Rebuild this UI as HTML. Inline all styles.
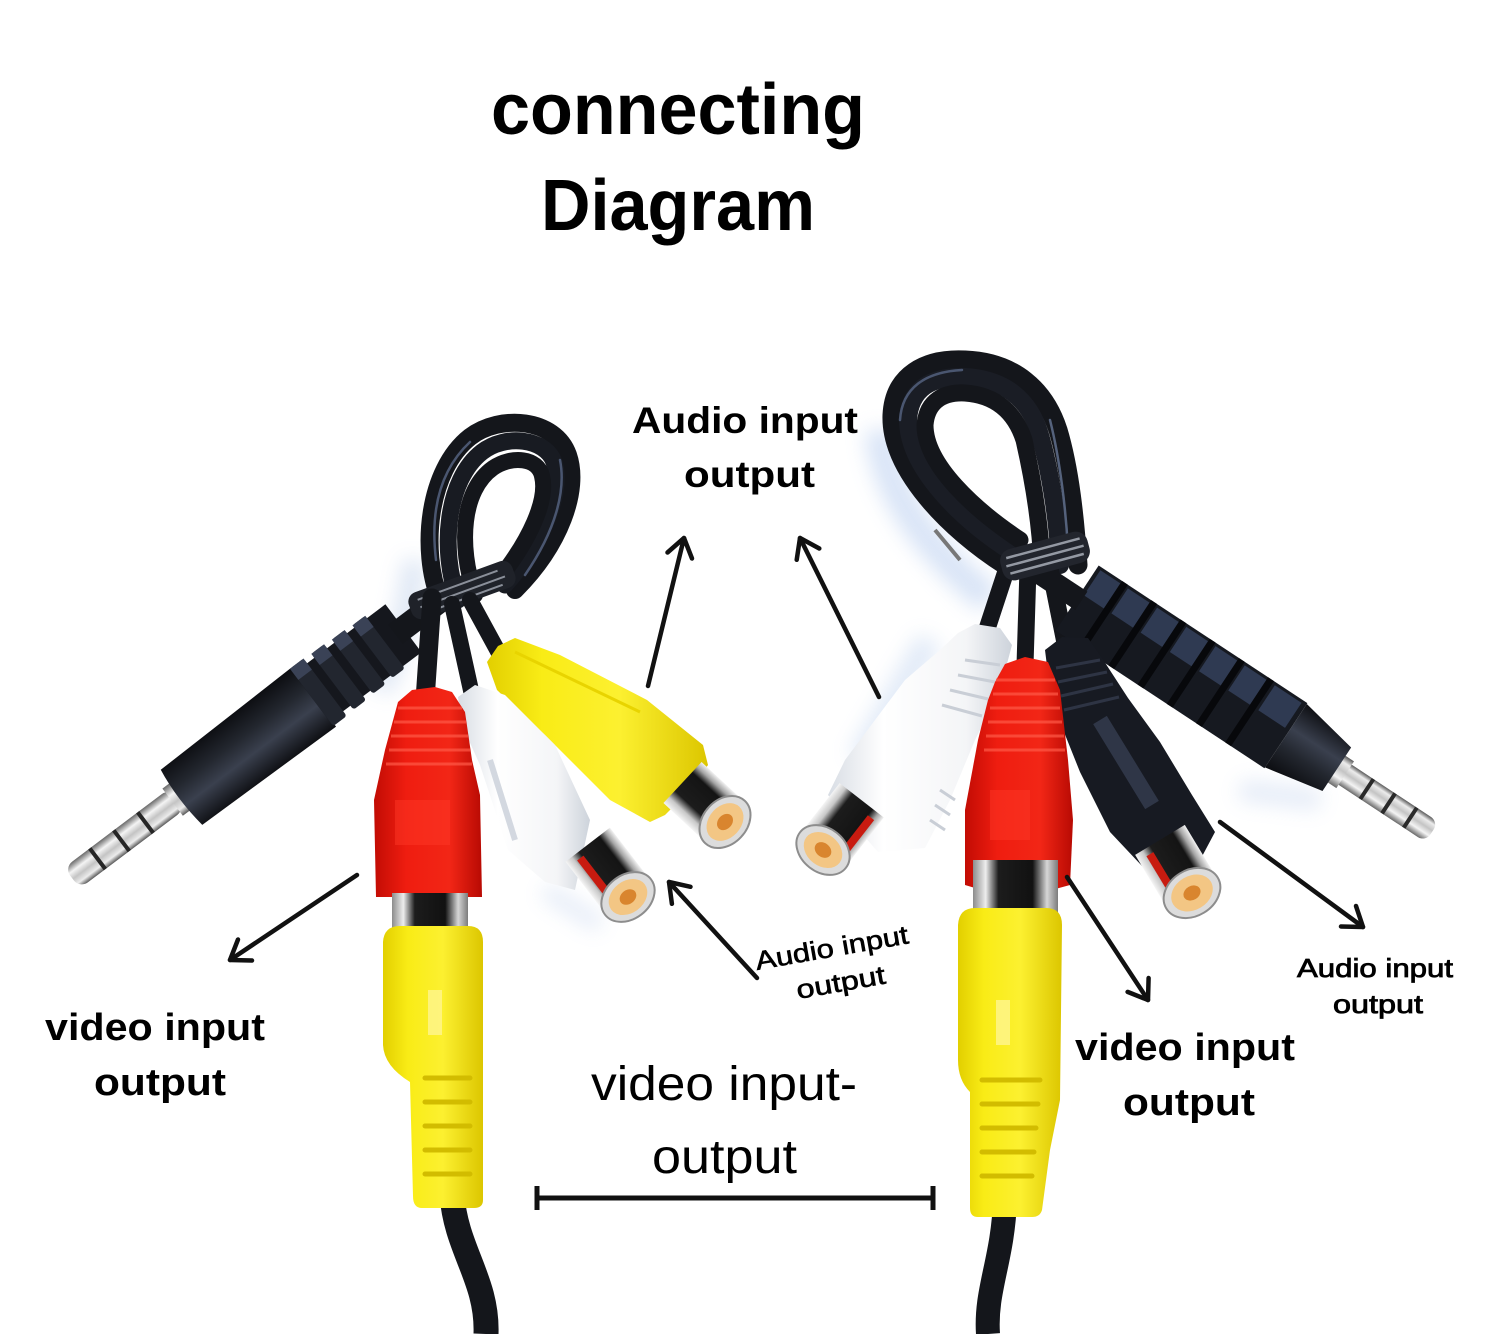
<!DOCTYPE html>
<html><head><meta charset="utf-8">
<style>html,body{margin:0;padding:0;background:#fff;}svg{display:block}</style>
</head><body>
<svg xmlns="http://www.w3.org/2000/svg" width="1500" height="1334" viewBox="0 0 1500 1334">
<defs>
<linearGradient id="metal" x1="0" y1="0" x2="0" y2="1">
 <stop offset="0" stop-color="#6a6a6a"/><stop offset="0.3" stop-color="#f4f4f4"/><stop offset="0.55" stop-color="#c4c4c4"/><stop offset="0.8" stop-color="#ececec"/><stop offset="1" stop-color="#5a5a5a"/>
</linearGradient>
<linearGradient id="blk" x1="0" y1="0" x2="0" y2="1">
 <stop offset="0" stop-color="#0c0d11"/><stop offset="0.35" stop-color="#23272f"/><stop offset="0.62" stop-color="#3a404e"/><stop offset="1" stop-color="#0e0f13"/>
</linearGradient>
<linearGradient id="chrome" x1="0" y1="0" x2="0" y2="1">
 <stop offset="0" stop-color="#f2f2f2"/><stop offset="0.12" stop-color="#a5a5a5"/><stop offset="0.25" stop-color="#141414"/><stop offset="0.7" stop-color="#1c1c1c"/><stop offset="0.86" stop-color="#c8c8c8"/><stop offset="1" stop-color="#f5f5f5"/>
</linearGradient>
<linearGradient id="collar" x1="0" y1="0" x2="1" y2="0">
 <stop offset="0" stop-color="#8c8c8c"/><stop offset="0.15" stop-color="#ededed"/><stop offset="0.3" stop-color="#1c1c1c"/><stop offset="0.7" stop-color="#111"/><stop offset="0.87" stop-color="#d6d6d6"/><stop offset="1" stop-color="#7c7c7c"/>
</linearGradient>
<linearGradient id="yel" x1="0" y1="0" x2="1" y2="0">
 <stop offset="0" stop-color="#e2cf00"/><stop offset="0.25" stop-color="#f9ec16"/><stop offset="0.6" stop-color="#fcf030"/><stop offset="1" stop-color="#dcc600"/>
</linearGradient>
<linearGradient id="red" x1="0" y1="0" x2="1" y2="0">
 <stop offset="0" stop-color="#c20c04"/><stop offset="0.3" stop-color="#ef1d10"/><stop offset="0.7" stop-color="#f22616"/><stop offset="1" stop-color="#b80a03"/>
</linearGradient>
<linearGradient id="wht" x1="0" y1="0" x2="1" y2="0">
 <stop offset="0" stop-color="#d8dde4"/><stop offset="0.3" stop-color="#ffffff"/><stop offset="0.75" stop-color="#f4f5f7"/><stop offset="1" stop-color="#cdd3db"/>
</linearGradient>
<filter id="sh" x="-50%" y="-50%" width="200%" height="200%"><feGaussianBlur stdDeviation="10"/></filter>
</defs>

<rect width="1500" height="1334" fill="#ffffff"/>

<!-- soft blue shadows -->
<g filter="url(#sh)" opacity="0.45">
 <path d="M880,430 C885,500 940,560 990,600" stroke="#a9c3ec" stroke-width="30" fill="none"/>
 <path d="M415,560 C410,600 400,650 380,690" stroke="#b8cbe8" stroke-width="24" fill="none"/>
 <path d="M930,640 L860,760" stroke="#bcd0ee" stroke-width="26" fill="none"/>
 <path d="M1240,790 L1320,800" stroke="#c3d3ee" stroke-width="20" fill="none"/>
 <path d="M545,890 L600,925" stroke="#c3d3ee" stroke-width="16" fill="none"/>
</g>

<!-- ================= LEFT ASSEMBLY ================= -->
<g fill="none" stroke-linecap="round">
 <path d="M440,600 C420,550 428,470 470,437 C500,414 555,418 568,455 C580,490 560,545 515,590" stroke="#14161b" stroke-width="18"/>
 <path d="M458,600 C440,550 446,480 482,452 C505,434 545,438 554,462 C563,490 545,540 505,585" stroke="#181b22" stroke-width="17"/>
 <path d="M475,595 C458,545 462,490 493,468 C512,455 538,458 542,476 C548,500 530,540 498,580" stroke="#14161b" stroke-width="16"/>
 <path d="M436,560 C430,510 440,470 470,442" stroke="#4a5670" stroke-width="2.5"/>
 <path d="M560,460 C566,490 556,530 525,575" stroke="#4a5670" stroke-width="2.5"/>
</g>

<!-- left jack -->
<g transform="translate(72,878) rotate(-37)">
 <rect x="0" y="-13" width="132" height="26" rx="10" fill="url(#metal)"/>
 <rect x="30" y="-13" width="4" height="26" fill="#262626"/>
 <rect x="60" y="-13" width="4" height="26" fill="#262626"/>
 <rect x="90" y="-13" width="4" height="26" fill="#262626"/>
 <rect x="126" y="-17" width="14" height="34" fill="url(#metal)"/>
 <path d="M136,-33 Q131,0 136,36 L302,38 L302,-36 Z" fill="url(#blk)"/>
 <rect x="300" y="-30" width="115" height="60" fill="#15171d"/>
 <rect x="300" y="-36" width="17" height="72" rx="3" fill="#22262f"/>
 <rect x="326" y="-35" width="16" height="70" rx="3" fill="#22262f"/>
 <rect x="351" y="-34" width="16" height="68" rx="3" fill="#22262f"/>
 <rect x="376" y="-33" width="16" height="66" rx="3" fill="#22262f"/>
 <rect x="300" y="-36" width="17" height="14" fill="#3a4256"/>
 <rect x="326" y="-35" width="16" height="14" fill="#3a4256"/>
 <rect x="351" y="-34" width="16" height="14" fill="#3a4256"/>
 <rect x="376" y="-33" width="16" height="14" fill="#3a4256"/>
 <rect x="405" y="-12" width="72" height="24" fill="#14161b"/>
</g>

<!-- left tie -->
<g transform="translate(462,590) rotate(-20)">
 <rect x="-55" y="-14" width="110" height="28" rx="10" fill="#1f2229"/>
 <path d="M-45,-6 H40 M-45,2 H45 M-40,9 H40" stroke="#8a8f99" stroke-width="2"/>
</g>

<!-- left cables to rca -->
<g fill="none" stroke="#14161b" stroke-linecap="round">
 <path d="M432,598 L425,700" stroke-width="19"/>
 <path d="M452,604 L472,695" stroke-width="16"/>
 <path d="M470,600 L500,655" stroke-width="16"/>
</g>

<!-- left yellow female -->
<path d="M487,662 L498,646 L515,638 L560,655 L647,700 L703,745 L708,765 L690,790 L665,815 L650,822 L610,800 L583,773 L545,735 L520,712 L497,690 Z" fill="url(#yel)"/>
<path d="M515,652 L640,712" stroke="#e8d400" stroke-width="3" fill="none"/>
<g transform="translate(725,822) rotate(42.9)">
 <rect x="-58" y="-28" width="58" height="56" fill="url(#chrome)"/>
 <ellipse rx="22" ry="29" fill="#dcdcdc" stroke="#8d8d8d" stroke-width="2"/>
 <ellipse rx="16" ry="21" fill="#f3c684"/>
 <ellipse rx="7" ry="9" fill="#d9852e"/>
</g>

<!-- left white female -->
<path d="M458,697 L475,685 L505,695 L555,745 L590,820 L575,890 L545,882 L508,850 L480,765 L462,725 Z" fill="url(#wht)"/>
<path d="M490,760 L515,840" stroke="#d3d8e0" stroke-width="6" fill="none"/>
<g transform="translate(628,897) rotate(52.4)">
 <rect x="-66" y="-28" width="66" height="56" fill="url(#chrome)"/>
 <rect x="-60" y="10" width="50" height="8" fill="#c81b10"/>
 <ellipse rx="22" ry="29" fill="#dcdcdc" stroke="#8d8d8d" stroke-width="2"/>
 <ellipse rx="16" ry="21" fill="#f3c684"/>
 <ellipse rx="7" ry="9" fill="#d9852e"/>
</g>

<!-- left bottom cable -->
<path d="M452,1195 C456,1250 488,1280 486,1334" stroke="#14161b" stroke-width="25" fill="none"/>

<!-- left red plug -->
<path d="M398,702 L412,690 L435,687 L452,692 L465,712 L472,760 L480,795 L482,897 L376,897 L374,800 L385,750 Z" fill="url(#red)"/>
<g stroke="#ff5a48" stroke-width="3" opacity="0.7">
 <path d="M398,708 H462 M394,722 H466 M391,736 H468 M389,750 H470 M386,764 H472"/>
</g>
<rect x="395" y="800" width="55" height="45" fill="#ff3a28" opacity="0.45"/>
<rect x="392" y="893" width="76" height="42" fill="url(#collar)"/>

<!-- left yellow plug -->
<path d="M383,942 Q384,926 400,926 L468,926 Q483,926 483,942 L483,1200 Q483,1208 474,1208 L422,1208 Q413,1208 413,1196 L410,1082 Q384,1066 383,1045 Z" fill="url(#yel)"/>
<rect x="428" y="990" width="14" height="45" fill="#fff590" opacity="0.8"/>
<g stroke="#d2bc00" stroke-width="5" stroke-linecap="round">
 <path d="M425,1078 H470 M425,1102 H470 M425,1126 H470 M425,1150 H470 M425,1174 H470"/>
</g>

<!-- ================= RIGHT ASSEMBLY ================= -->
<g fill="none" stroke-linecap="round">
 <path d="M1005,565 C950,530 890,470 892,415 C894,375 925,358 965,360 C1015,362 1045,390 1058,430 C1070,470 1075,520 1078,565" stroke="#14161b" stroke-width="19"/>
 <path d="M1012,552 C962,520 908,468 908,420 C910,388 932,376 965,377 C1005,379 1030,400 1040,435 C1050,470 1058,520 1060,565" stroke="#1a1d25" stroke-width="18"/>
 <path d="M1020,540 C975,510 925,465 925,425 C927,400 945,392 965,393 C995,395 1015,412 1024,440 C1032,475 1040,520 1042,565" stroke="#14161b" stroke-width="17"/>
 <path d="M900,420 C902,388 925,372 962,370" stroke="#4a5670" stroke-width="2.5"/>
 <path d="M1050,420 C1060,460 1066,510 1068,550" stroke="#55627c" stroke-width="2.5"/>
</g>
<path d="M935,530 L960,560" stroke="#777" stroke-width="4"/>

<!-- right cables -->
<g fill="none" stroke="#14161b" stroke-linecap="round">
 <path d="M1008,565 L985,635" stroke-width="17"/>
 <path d="M1028,568 L1025,665" stroke-width="17"/>
 <path d="M1050,568 L1066,648" stroke-width="17"/>
</g>

<!-- right jack -->
<g transform="translate(1432,832) rotate(213.4)">
 <rect x="0" y="-12" width="112" height="24" rx="9" fill="url(#metal)"/>
 <rect x="24" y="-12" width="4" height="24" fill="#2a2a2a"/>
 <rect x="50" y="-12" width="4" height="24" fill="#2a2a2a"/>
 <rect x="76" y="-12" width="4" height="24" fill="#2a2a2a"/>
 <rect x="104" y="-16" width="12" height="32" fill="url(#metal)"/>
 <path d="M114,-26 L175,-38 L175,38 L114,26 Z" fill="url(#blk)"/>
 <rect x="175" y="-39" width="250" height="78" fill="#161920"/>
 <rect x="180" y="6" width="32" height="30" fill="#2f3a52"/>
 <rect x="222" y="6" width="26" height="30" fill="#2f3a52"/>
 <rect x="257" y="6" width="26" height="30" fill="#2f3a52"/>
 <rect x="292" y="6" width="26" height="30" fill="#2f3a52"/>
 <rect x="327" y="6" width="26" height="30" fill="#2f3a52"/>
 <rect x="362" y="6" width="26" height="30" fill="#2f3a52"/>
 <rect x="397" y="6" width="24" height="30" fill="#2f3a52"/>
 <rect x="215" y="-39" width="7" height="78" fill="#07080b"/>
 <rect x="250" y="-39" width="7" height="78" fill="#07080b"/>
 <rect x="285" y="-39" width="7" height="78" fill="#07080b"/>
 <rect x="320" y="-39" width="7" height="78" fill="#07080b"/>
 <rect x="355" y="-39" width="7" height="78" fill="#07080b"/>
 <rect x="390" y="-39" width="7" height="78" fill="#07080b"/>
 <rect x="420" y="-11" width="55" height="22" fill="#14161b"/>
</g>

<!-- right tie -->
<g transform="translate(1045,556) rotate(-15)">
 <rect x="-45" y="-16" width="90" height="32" rx="12" fill="#22252d"/>
 <path d="M-38,-8 H38 M-40,0 H40 M-38,8 H38" stroke="#9499a3" stroke-width="2.5"/>
</g>

<!-- right black rca -->
<path d="M1045,650 L1062,637 L1088,638 L1102,658 L1128,698 L1160,742 L1192,795 L1215,832 L1198,864 L1142,866 L1110,832 L1080,772 L1060,722 L1050,690 Z" fill="#171a22"/>
<path d="M1100,720 L1152,805" stroke="#3a4358" stroke-width="16" opacity="0.7"/>
<g stroke="#2e3444" stroke-width="3">
 <path d="M1056,668 L1100,660 M1058,682 L1107,672 M1061,696 L1113,684 M1064,710 L1119,697"/>
</g>
<g transform="translate(1192,893) rotate(58.9)">
 <rect x="-62" y="-29" width="62" height="58" fill="url(#chrome)"/>
 <rect x="-55" y="12" width="45" height="8" fill="#c81b10"/>
 <ellipse rx="23" ry="30" fill="#dcdcdc" stroke="#8d8d8d" stroke-width="2"/>
 <ellipse rx="17" ry="22" fill="#f3c684"/>
 <ellipse rx="7" ry="9" fill="#d9852e"/>
</g>

<!-- right white female -->
<path d="M958,633 L975,624 L1000,628 L1012,645 L1000,690 L975,740 L950,800 L925,848 L878,852 L828,795 L845,760 L905,680 L940,650 Z" fill="url(#wht)"/>
<g stroke="#c9ced6" stroke-width="3">
 <path d="M965,660 L1000,665 M958,675 L995,682 M950,690 L988,699 M942,705 L982,716 M940,790 L955,800 M935,805 L950,815 M930,820 L945,830"/>
</g>
<g transform="translate(823,850) rotate(127.9)">
 <rect x="-63" y="-28" width="63" height="56" fill="url(#chrome)"/>
 <rect x="-55" y="-22" width="45" height="8" fill="#c81b10"/>
 <ellipse rx="22" ry="29" fill="#dcdcdc" stroke="#8d8d8d" stroke-width="2"/>
 <ellipse rx="16" ry="21" fill="#f3c684"/>
 <ellipse rx="7" ry="9" fill="#d9852e"/>
</g>

<!-- right bottom cable -->
<path d="M1005,1200 C1003,1260 985,1290 988,1334" stroke="#14161b" stroke-width="24" fill="none"/>

<!-- right red plug -->
<path d="M995,682 L1005,664 L1025,657 L1048,662 L1060,690 L1068,760 L1073,820 L1070,885 L1015,900 L965,885 L965,810 L978,740 L988,700 Z" fill="url(#red)"/>
<g stroke="#ff5a48" stroke-width="3" opacity="0.7">
 <path d="M996,680 H1055 M993,694 H1058 M990,708 H1060 M988,722 H1062 M986,736 H1064 M984,750 H1065"/>
</g>
<rect x="990" y="790" width="40" height="50" fill="#ff3a28" opacity="0.45"/>
<rect x="973" y="860" width="85" height="55" fill="url(#collar)"/>

<!-- right yellow plug -->
<path d="M958,925 Q959,908 975,908 L1046,908 Q1062,908 1062,925 L1060,1100 L1050,1150 L1042,1210 Q1040,1217 1032,1217 L978,1217 Q970,1217 970,1208 L970,1092 Q958,1080 958,1060 Z" fill="url(#yel)"/>
<rect x="996" y="1000" width="14" height="45" fill="#fff590" opacity="0.8"/>
<g stroke="#d2bc00" stroke-width="5" stroke-linecap="round">
 <path d="M982,1080 H1040 M982,1104 H1038 M982,1128 H1036 M982,1152 H1034 M982,1176 H1032"/>
</g>

<!-- ================= ARROWS ================= -->
<g fill="none" stroke="#111" stroke-width="4.5" stroke-linecap="round" stroke-linejoin="round">
 <path d="M648,686 L684,538"/><path d="M667.5,552.5 L684,538 L692,558.5"/>
 <path d="M879,697 L800,538"/><path d="M796.7,559.8 L800,538 L819.3,548.5"/>
 <path d="M357,875 L230,960"/><path d="M252,960.5 L230,960 L238,939.5"/>
 <path d="M757,978 L669,882"/><path d="M671.9,903.8 L669,882 L690.5,886.8"/>
 <path d="M1067,877 L1148,1000"/><path d="M1148.6,978 L1148,1000 L1127.6,991.9"/>
 <path d="M1220,822 L1363,927"/><path d="M1356,906 L1363,927 L1341,926.5"/>
</g>

<!-- dimension line -->
<path d="M537,1198 H933 M537,1186 V1210 M933,1186 V1210" stroke="#111" stroke-width="5" fill="none"/>

<!-- ================= TEXT ================= -->
<g font-family="'Liberation Sans', Arial, sans-serif" fill="#000">
 <text x="491" y="134" font-size="72" font-weight="bold" textLength="374" lengthAdjust="spacingAndGlyphs">connecting</text>
 <text x="541" y="230" font-size="72" font-weight="bold" textLength="274" lengthAdjust="spacingAndGlyphs">Diagram</text>

 <text x="632" y="433" font-size="37" font-weight="bold" textLength="226" lengthAdjust="spacingAndGlyphs">Audio input</text>
 <text x="684" y="487" font-size="37" font-weight="bold" textLength="131" lengthAdjust="spacingAndGlyphs">output</text>

 <text x="45" y="1040" font-size="38" font-weight="bold" textLength="220" lengthAdjust="spacingAndGlyphs">video input</text>
 <text x="94" y="1095" font-size="38" font-weight="bold" textLength="132" lengthAdjust="spacingAndGlyphs">output</text>

 <text x="1075" y="1060" font-size="38" font-weight="bold" textLength="220" lengthAdjust="spacingAndGlyphs">video input</text>
 <text x="1123" y="1115" font-size="38" font-weight="bold" textLength="132" lengthAdjust="spacingAndGlyphs">output</text>

 <text x="1297" y="977" font-size="26" stroke="#000" stroke-width="0.8" textLength="156" lengthAdjust="spacingAndGlyphs">Audio input</text>
 <text x="1333" y="1013" font-size="26" stroke="#000" stroke-width="0.8" textLength="90" lengthAdjust="spacingAndGlyphs">output</text>

 <text transform="translate(757,970) rotate(-10)" font-size="26" stroke="#000" stroke-width="0.6" textLength="155" lengthAdjust="spacingAndGlyphs">Audio input</text>
 <text transform="translate(798,999) rotate(-10)" font-size="26" stroke="#000" stroke-width="0.6" textLength="90" lengthAdjust="spacingAndGlyphs">output</text>

 <text x="591" y="1100" font-size="48" textLength="266" lengthAdjust="spacingAndGlyphs">video input-</text>
 <text x="652" y="1173" font-size="48" textLength="145" lengthAdjust="spacingAndGlyphs">output</text>
</g>
</svg>
</body></html>
